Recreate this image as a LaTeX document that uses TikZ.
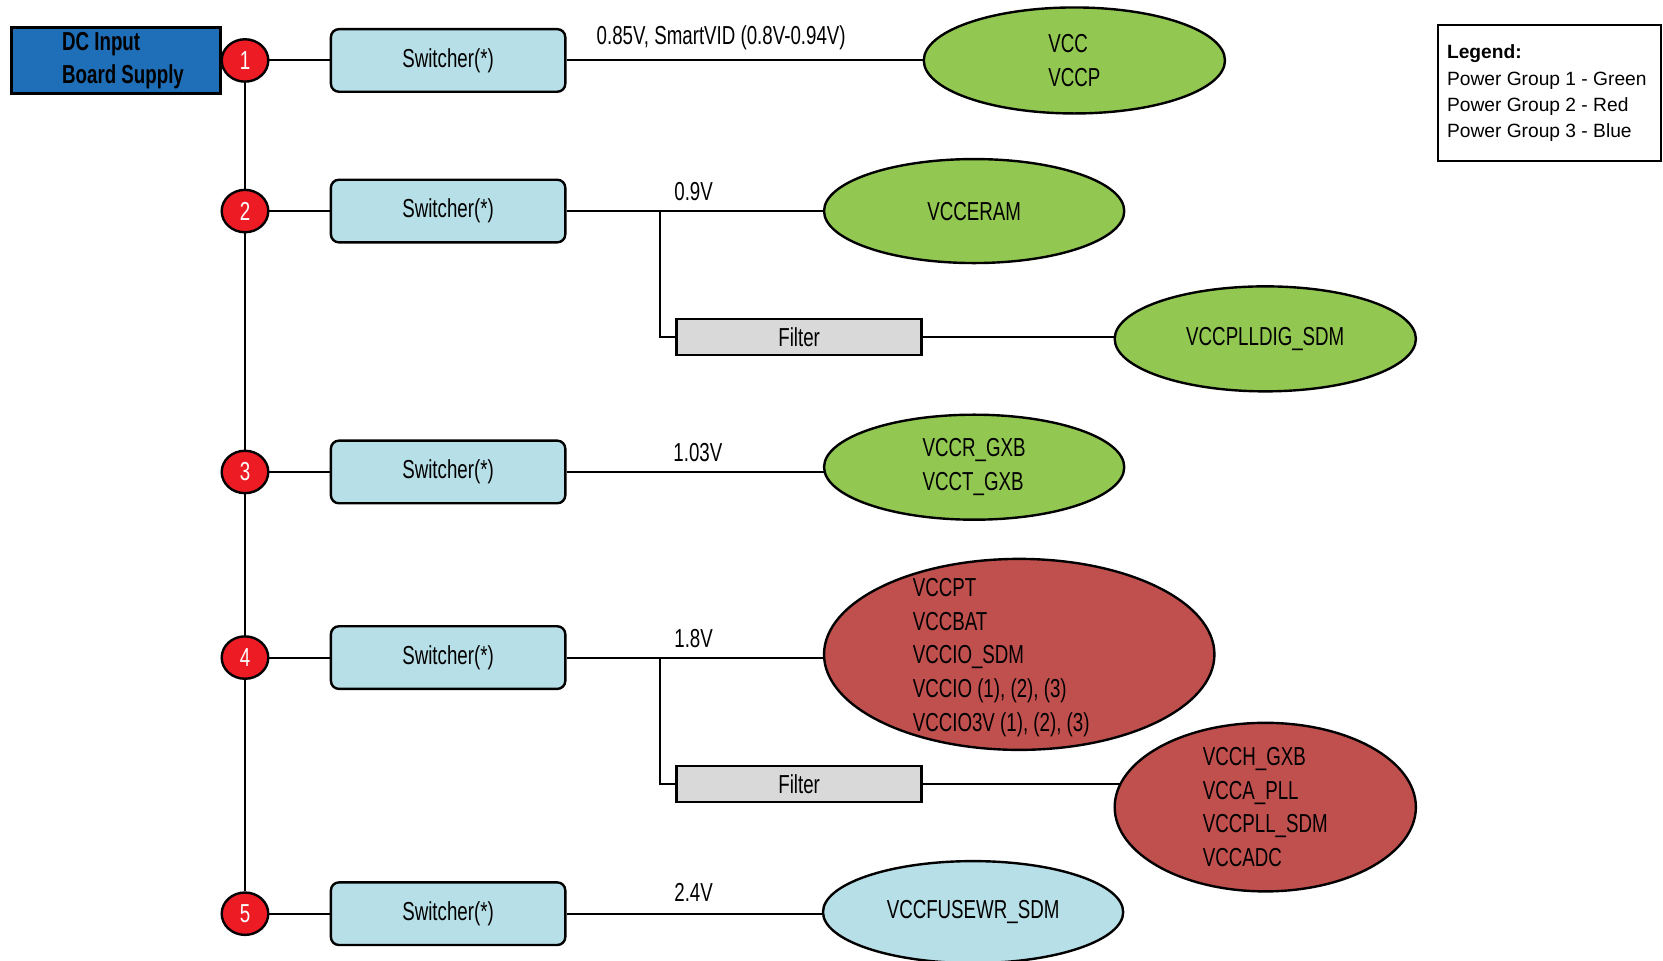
\documentclass[tikz,border=0pt]{standalone}
\usepackage{fontspec}
\setmainfont{Liberation Sans}
\newfontfamily\cond{Liberation Sans}[FakeStretch=0.72]
\usetikzlibrary{shapes.geometric,backgrounds}
\definecolor{dcblue}{RGB}{31,111,184}
\definecolor{numred}{RGB}{237,28,36}
\definecolor{swblue}{RGB}{183,223,231}
\definecolor{grp1}{RGB}{146,200,82}
\definecolor{grp2}{RGB}{192,80,77}
\definecolor{filtgray}{RGB}{217,217,217}
\begin{document}
\begin{tikzpicture}[x=0.5303pt,y=-0.5303pt,
  every node/.style={font=\cond\fontsize{13}{16.8}\selectfont},
  sw/.style={draw, line width=1.2pt, rounded corners=4pt, fill=swblue, minimum width=117.2pt, minimum height=31.3pt},
  num/.style={ellipse, draw, line width=1.2pt, fill=numred, text=white, minimum width=23.3pt, minimum height=21.2pt, inner sep=0pt},
  filt/.style={rectangle, draw, line width=1.2pt, fill=filtgray, minimum width=122.5pt, minimum height=18pt, inner sep=0pt},
  load/.style={ellipse, draw, line width=1.2pt, align=left, inner sep=0pt},
  lab/.style={inner sep=0pt},
  wire/.style={line width=1pt}]
\useasboundingbox (0,0) rectangle (1568,906);

% DC input
\node[draw, line width=1.2pt, fill=dcblue, minimum width=104.5pt, minimum height=32.9pt, inner sep=0pt] (dc) at (109.5,57) {};
\node[align=left, inner sep=0pt, font=\cond\bfseries\fontsize{13}{16.8}\selectfont] (dct) at (116,57) {DC Input\\Board Supply};

% numbered circles
\node[num] (c1) at (231,57) {1};
\node[num] (c2) at (231,199) {2};
\node[num] (c3) at (231,445) {3};
\node[num] (c4) at (231,620) {4};
\node[num] (c5) at (231,861.5) {5};

% switchers
\node[sw] (s1) at (422.5,57) {Switcher(*)};
\node[sw] (s2) at (422.5,199) {Switcher(*)};
\node[sw] (s3) at (422.5,445) {Switcher(*)};
\node[sw] (s4) at (422.5,620) {Switcher(*)};
\node[sw] (s5) at (422.5,861.5) {Switcher(*)};

% filters
\node[filt] (f2) at (753.5,318) {Filter};
\node[filt] (f4) at (753.5,739) {Filter};

% loads
\node[load, fill=grp1, minimum width=150.6pt, minimum height=53pt] (e1) at (1013,57) {VCC\\VCCP};
\node[load, fill=grp1, minimum width=150.1pt, minimum height=52pt] (e2) at (918.5,199) {VCCERAM};
\node[load, fill=grp1, minimum width=150.6pt, minimum height=52.5pt] (e2b) at (1193,319.5) {VCCPLLDIG\_SDM};
\node[load, fill=grp1, minimum width=150.1pt, minimum height=52.5pt] (e3) at (918.5,440.5) {VCCR\_GXB\\VCCT\_GXB};
\node[load, fill=grp2, minimum width=195.2pt, minimum height=95.5pt] (e4) at (961,617) {};
\node[align=left, inner sep=0pt] (e4t) at (944,620) {VCCPT\\VCCBAT\\VCCIO\_SDM\\VCCIO (1), (2), (3)\\VCCIO3V (1), (2), (3)};
\node[load, fill=grp2, minimum width=150.6pt, minimum height=74.2pt] (e4b) at (1193,761) {VCCH\_GXB\\VCCA\_PLL\\VCCPLL\_SDM\\VCCADC};
\node[load, fill=swblue, minimum width=150.1pt, minimum height=51pt] (e5) at (917.5,860) {VCCFUSEWR\_SDM};

% branch points
\coordinate (b2) at (622,199);
\coordinate (b4) at (622,620);

% voltage labels
\node[lab] (v1) at (680,36) {0.85V, SmartVID (0.8V-0.94V)};
\node[lab] (v2) at (654,181) {0.9V};
\node[lab] (v3) at (658,427) {1.03V};
\node[lab] (v4) at (654,602) {1.8V};
\node[lab] (v5) at (654,841) {2.4V};

% legend
\node[draw, line width=1pt, minimum width=111.4pt, minimum height=67.9pt] (leg) at (1461,88) {};
\node[anchor=west, inner sep=0pt, align=left, font=\fontsize{9.6}{13.2}\selectfont] (legt) at (1364,88)
  {\textbf{Legend:}\\Power Group 1 - Green\\Power Group 2 - Red\\Power Group 3 - Blue};

\begin{scope}[on background layer]
\draw[wire] (c1.south) -- (c2.north);
\draw[wire] (c2.south) -- (c3.north);
\draw[wire] (c3.south) -- (c4.north);
\draw[wire] (c4.south) -- (c5.north);
\draw[wire] (c1.east) -- (s1.west);
\draw[wire] (c2.east) -- (s2.west);
\draw[wire] (c3.east) -- (s3.west);
\draw[wire] (c4.east) -- (s4.west);
\draw[wire] (c5.east) -- (s5.west);
\draw[wire] (s1.east) -- (s1.east -| e1.center);
\draw[wire] (s2.east) -- (s2.east -| e2.center);
\draw[wire] (s3.east) -- (s3.east -| e3.center);
\draw[wire] (s4.east) -- (s4.east -| e4.center);
\draw[wire] (s5.east) -- (s5.east -| e5.center);
\draw[wire] (b2) |- (f2.west);
\draw[wire] (b4) |- (f4.west);
\draw[wire] (f2.east) -- (f2.east -| e2b.center);
\draw[wire] (f4.east) -- (f4.east -| e4b.center);
\end{scope}
\end{tikzpicture}
\end{document}
